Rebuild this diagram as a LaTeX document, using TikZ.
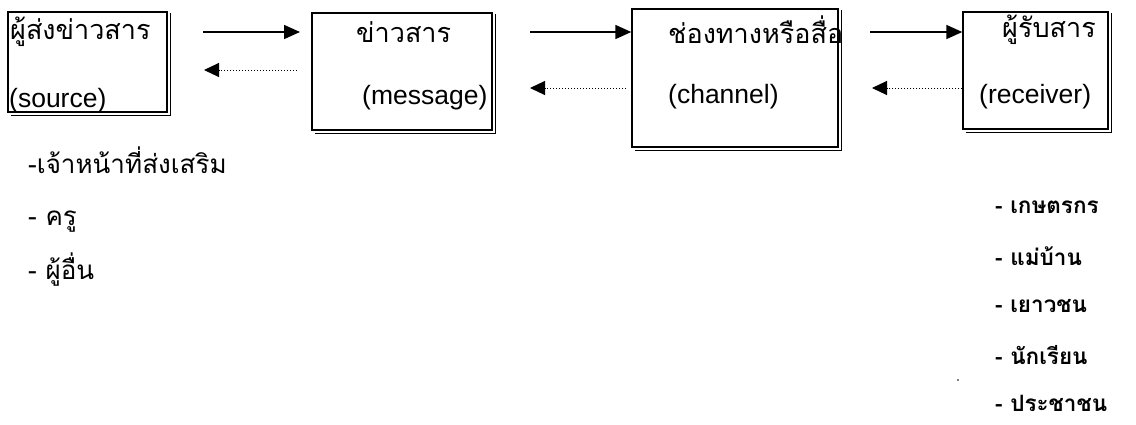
\documentclass[tikz,border=0pt]{standalone}
\usepackage{fontspec}
\setmainfont{Liberation Sans}
\newfontfamily\thai[Script=Thai]{Loma}
\usetikzlibrary{arrows.meta}
\tikzset{
  box/.style={draw, line width=1.4pt, inner sep=0pt},
  shade/.style={line width=0.6pt},
  fwd/.style={line width=1.6pt, -{Triangle[length=16pt,width=14pt]}},
  back/.style={line width=1pt, dotted, -{Triangle[length=15pt,width=14pt]}},
  lab/.style={anchor=west, inner sep=0pt, font=\fontsize{26.5}{30}\selectfont},
  thl/.style={anchor=west, inner sep=0pt, font=\thai\fontsize{27}{30}\selectfont},
  item/.style={anchor=west, inner sep=0pt, font=\thai\fontsize{26}{30}\selectfont},
  ritem/.style={anchor=west, inner sep=0pt, font=\thai\bfseries\fontsize{22.5}{26}\selectfont},
}
\begin{document}
\begin{tikzpicture}[x=1pt,y=1pt]
\useasboundingbox[fill=white] (0,0) rectangle (1136,-424);
% boxes
\node[box, minimum width=159pt, minimum height=100pt] (b1) at (87.5,-62) {};
\node[box, minimum width=180pt, minimum height=117pt] (b2) at (402,-71.5) {};
\node[box, minimum width=206pt, minimum height=138pt] (b3) at (735,-78) {};
\node[box, minimum width=145pt, minimum height=117pt] (b4) at (1035.5,-70.5) {};
% double edges (shadow lines)
\foreach \b in {b1,b2,b3,b4}{
  \draw[shade] ([xshift=3pt,yshift=-2pt]\b.north east) -- ([xshift=3pt,yshift=-3pt]\b.south east) -- ([xshift=4pt,yshift=-3pt]\b.south west);
}
% box texts
\node[thl] (t1) at (10,-32) {ผู้ส่งข่าวสาร};
\node[lab] (s1) at (9,-101) {(source)};
\node[thl] (t2) at (356,-32) {ข่าวสาร};
\node[lab] (s2) at (362,-98) {(message)};
\node[thl] (t3) at (668,-30) {ช่องทางหรือสื่อ};
\node[lab] (s3) at (668,-97) {(channel)};
\node[thl] (t4) at (1002,-30) {ผู้รับสาร};
\node[lab] (s4) at (979,-97) {(receiver)};
% arrows
\coordinate (a1s) at (203,-32); \coordinate (a1e) at (300,-32);
\coordinate (d1s) at (297,-70); \coordinate (d1e) at (204,-70);
\draw[fwd] (a1s) -- (a1e);
\draw[back] (d1s) -- (d1e);
\coordinate (a2s) at (530,-32);
\coordinate (d2s) at (626,-88); \coordinate (d2e) at (530,-88);
\draw[fwd] (a2s) -- (b3.west |- a2s);
\draw[back] (d2s) -- (d2e);
\coordinate (a3s) at (870,-32); \coordinate (d3e) at (872,-88);
\draw[fwd] (a3s) -- (b4.west |- a3s);
\draw[back] (b4.west |- d3e) -- (d3e);
% lists
\node[item] (l1) at (28,-160) {-เจ้าหน้าที่ส่งเสริม};
\node[item] (l2) at (28,-222) {- ครู};
\node[item] (l3) at (28,-270) {- ผู้อื่น};
\node[ritem] (r1) at (995,-207) {- เกษตรกร};
\node[ritem] (r2) at (995,-256) {- แม่บ้าน};
\node[ritem] (r3) at (995,-306) {- เยาวชน};
\node[ritem] (r4) at (995,-355) {- นักเรียน};
\node[ritem] (r5) at (995,-403) {- ประชาชน};
\fill (958,-380) circle (0.9pt);
\end{tikzpicture}
\end{document}
